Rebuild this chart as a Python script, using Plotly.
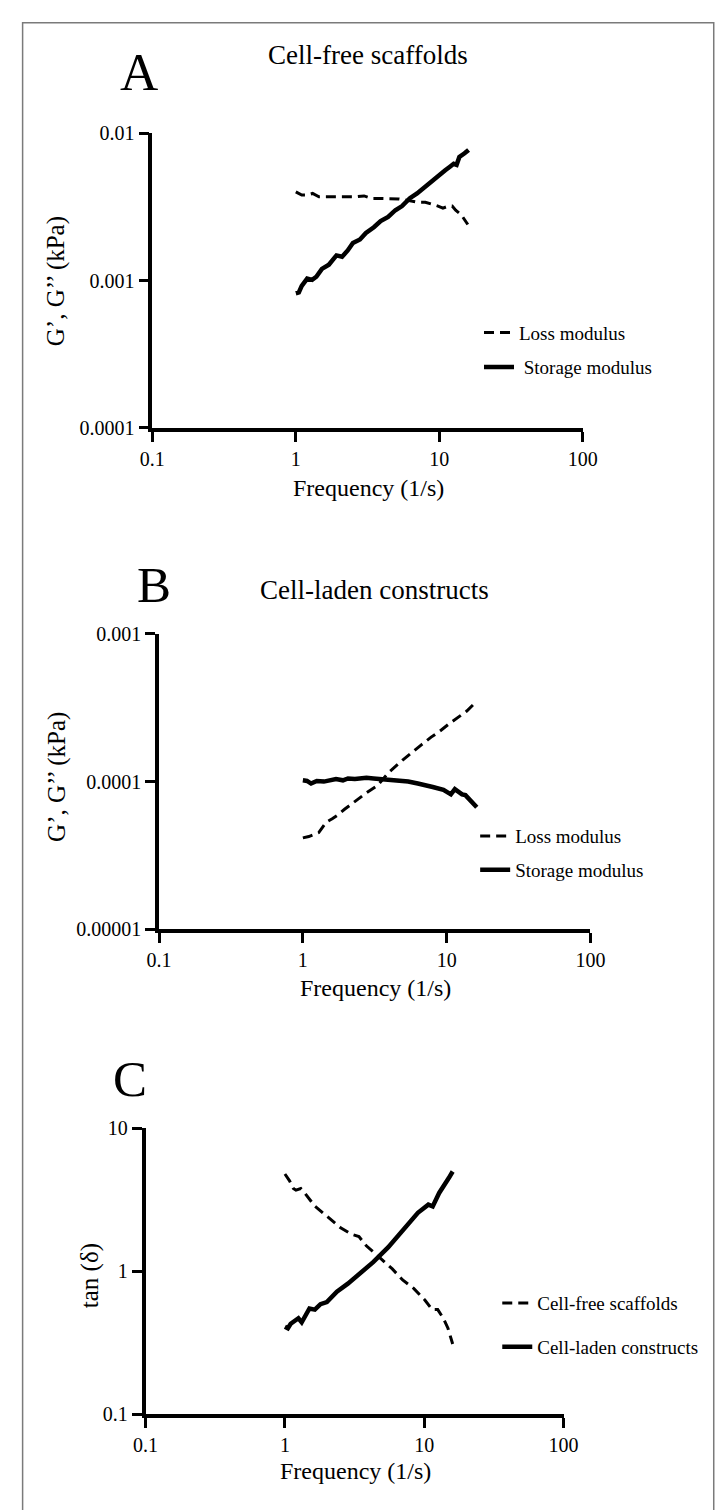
import plotly.graph_objects as go

W, H = 715, 1510

# ---------------- data ----------------
a_storage_f = [1, 1.05, 1.1, 1.2, 1.3, 1.39, 1.52, 1.7, 1.92, 2.1, 2.3, 2.5, 2.8, 3.08, 3.5, 3.9, 4.4,
               4.94, 5.5, 6.24, 7.0, 7.9, 8.9, 10, 11, 11.8, 12.6, 13.2, 13.8, 15, 16]
a_storage = [0.00082, 0.00083, 0.00092, 0.00103, 0.00101, 0.00106, 0.0012, 0.00128, 0.00148, 0.00145,
             0.0016, 0.0018, 0.0019, 0.0021, 0.0023, 0.00253, 0.0027, 0.003, 0.0032, 0.00362, 0.0039,
             0.0043, 0.0048, 0.0053, 0.0056, 0.0059, 0.0062, 0.0061, 0.0069, 0.0073, 0.0077]
a_loss_f = [1, 1.1, 1.2, 1.31, 1.45, 1.71, 2.0, 2.3, 2.6, 2.99, 3.4, 3.9, 4.5, 5.2, 6.0, 7.0, 8.0,
            8.9, 9.8, 10.6, 11.6, 12.3, 13, 14.2, 15, 15.8]
a_loss = [0.0040, 0.0038, 0.0038, 0.0039, 0.0037, 0.0037, 0.0037, 0.0037, 0.0037, 0.00375, 0.0036,
          0.0036, 0.0036, 0.00358, 0.0035, 0.0034, 0.0034, 0.0033, 0.0032, 0.0031, 0.0032, 0.0032,
          0.0030, 0.0028, 0.0026, 0.0024]

b_storage_f = [1, 1.07, 1.14, 1.25, 1.4, 1.55, 1.7, 1.9, 2.06, 2.3, 2.77, 3.1, 3.5, 4.0, 4.7, 5.4,
               6.3, 7.1, 8.0, 9.5, 10.7, 11.4, 12.0, 12.8, 13.5, 14.4, 15.3, 16.2]
b_storage = [0.000102, 0.000101, 0.000097, 0.000101, 0.0001, 0.000103, 0.000104, 0.000102, 0.000105,
             0.000104, 0.000106, 0.000105, 0.000104, 0.000103, 0.000101, 0.0001, 0.000097, 0.000095,
             0.000092, 0.000088, 0.000082, 0.000089, 0.000085, 0.000082, 0.000081, 0.000076,
             0.000072, 0.000067]
b_loss_f = [1, 1.1, 1.29, 1.45, 1.6, 1.73, 1.95, 2.19, 2.5, 2.77, 3.3, 3.94, 4.99, 5.8, 6.7, 7.8,
            9.0, 10.5, 12.1, 13.8, 15.7]
b_loss = [0.0000416, 0.0000425, 0.0000452, 0.000053, 0.000056, 0.000059, 0.000065, 0.000071,
          0.000078, 0.000084, 0.000094, 0.000115, 0.000141, 0.00016, 0.000178, 0.0002, 0.00022,
          0.000248, 0.000275, 0.0003, 0.00034]

c_laden_f = [1, 1.05, 1.1, 1.18, 1.25, 1.32, 1.42, 1.5, 1.64, 1.8, 2.0, 2.36, 2.83, 3.4, 4.3, 5.5,
             7.0, 9.0, 10.7, 11.5, 12.8, 14, 15, 16]
c_laden = [0.41, 0.40, 0.43, 0.45, 0.47, 0.44, 0.50, 0.55, 0.54, 0.59, 0.61, 0.72, 0.82, 0.96, 1.16,
           1.47, 1.92, 2.57, 2.93, 2.85, 3.54, 4.0, 4.5, 5.0]
c_free_f = [1, 1.08, 1.15, 1.2, 1.3, 1.4, 1.64, 1.85, 2.09, 2.51, 3.0, 3.4, 3.84, 4.9, 5.9, 7.0,
            8.4, 10.1, 11.4, 12.5, 13.7, 14.8, 16]
c_free = [4.8, 4.3, 3.8, 3.7, 3.8, 3.5, 2.86, 2.6, 2.37, 2.02, 1.82, 1.75, 1.51, 1.22, 1.04, 0.87,
          0.76, 0.63, 0.54, 0.54, 0.47, 0.40, 0.31]

x_ticks = [0.1, 1, 10, 100]
x_ticktext = ["0.1", "1", "10", "100"]
a_yticks = [0.0001, 0.001, 0.01]
a_yticktext = ["0.0001", "0.001", "0.01"]
b_yticks = [0.00001, 0.0001, 0.001]
b_yticktext = ["0.00001", "0.0001", "0.001"]
c_yticks = [0.1, 1, 10]
c_yticktext = ["0.1", "1", "10"]

FONT = "Liberation Serif"

def xdom(x0, x1):
    return [x0 / W, x1 / W]

def ydom(ytop, ybot):
    return [1 - ybot / H, 1 - ytop / H]

fig = go.Figure()

solid = dict(color="black", width=4.5)
dashed = dict(color="black", width=3, dash="10px,6px")

fig.add_trace(go.Scatter(x=a_loss_f, y=a_loss, mode="lines", line=dashed, name="Loss modulus",
                         xaxis="x", yaxis="y", legend="legend", legendgroup="a1"))
fig.add_trace(go.Scatter(x=a_storage_f, y=a_storage, mode="lines", line=solid,
                         name="\u00a0Storage modulus",
                         xaxis="x", yaxis="y", legend="legend", legendgroup="a2"))
fig.add_trace(go.Scatter(x=b_loss_f, y=b_loss, mode="lines", line=dashed, name="Loss modulus",
                         xaxis="x2", yaxis="y2", legend="legend2", legendgroup="b1"))
fig.add_trace(go.Scatter(x=b_storage_f, y=b_storage, mode="lines", line=solid, name="Storage modulus",
                         xaxis="x2", yaxis="y2", legend="legend2", legendgroup="b2"))
fig.add_trace(go.Scatter(x=c_free_f, y=c_free, mode="lines", line=dashed, name="Cell-free scaffolds",
                         xaxis="x3", yaxis="y3", legend="legend3", legendgroup="c1"))
fig.add_trace(go.Scatter(x=c_laden_f, y=c_laden, mode="lines", line=solid, name="Cell-laden constructs",
                         xaxis="x3", yaxis="y3", legend="legend3", legendgroup="c2"))

axis_common = dict(type="log", showline=True, linecolor="black", linewidth=3.5, ticks="outside",
                   ticklen=10, tickwidth=3, tickcolor="black", showgrid=False, zeroline=False,
                   tickfont=dict(family=FONT, size=20, color="black"), mirror=False)

panels = {
    "A": dict(xa="xaxis", ya="yaxis", yn="y", xn="x", box=(145, 124, 593, 423),
              yr=[-4, -2], yt=a_yticks, ytt=a_yticktext),
    "B": dict(xa="xaxis2", ya="yaxis2", yn="y2", xn="x2", box=(152, 632, 601, 932),
              yr=[-5, -3], yt=b_yticks, ytt=b_yticktext),
    "C": dict(xa="xaxis3", ya="yaxis3", yn="y3", xn="x3", box=(138, 1134, 573, 1424),
              yr=[-1, 1], yt=c_yticks, ytt=c_yticktext),
}

lay = {}
for k, p in panels.items():
    x0, y0, x1, y1 = p["box"]
    lay[p["xa"]] = dict(axis_common, domain=xdom(x0, x1), range=[-1, 2], tickvals=x_ticks,
                        ticktext=x_ticktext, anchor=p["yn"])
    lay[p["ya"]] = dict(axis_common, domain=ydom(y0, y1), range=p["yr"], tickvals=p["yt"],
                        ticktext=p["ytt"], anchor=p["xn"])

leg_common = dict(font=dict(family=FONT, size=19, color="black"), bgcolor="rgba(0,0,0,0)",
                  borderwidth=0, xanchor="left", yanchor="top", itemwidth=30,
                  traceorder="grouped")
lay["legend"] = dict(leg_common, x=(525 - 40) / W, y=1 - 307 / H, tracegroupgap=7)
lay["legend2"] = dict(leg_common, x=(521 - 40) / W, y=1 - 818 / H, tracegroupgap=6)
lay["legend3"] = dict(leg_common, x=(544 - 40) / W, y=1 - 1292 / H, tracegroupgap=16)

def ann(text, px, py, size, angle=0):
    return dict(text=text, x=px / W, y=1 - py / H, xref="paper", yref="paper", showarrow=False,
                xanchor="center", yanchor="middle", textangle=angle,
                font=dict(family=FONT, size=size, color="black"))

annotations = [
    ann("A", 131, 62, 53),
    ann("Cell-free scaffolds", 369, 45, 27),
    ann("Frequency (1/s)", 370, 484, 24),
    ann("G’, G’’ (kPa)", 45, 274, 25, -90),
    ann("B", 147, 582, 51),
    ann("Cell-laden constructs", 376, 588, 27),
    ann("Frequency (1/s)", 377, 991, 24),
    ann("G’, G’’ (kPa)", 45, 777, 25, -90),
    ann("C", 122, 1084, 51),
    ann("Frequency (1/s)", 356, 1482, 24),
    ann("tan (δ)", 80, 1283, 25, -90),
]

shapes = [dict(type="rect", xref="paper", yref="paper", x0=10 / W, x1=1.02, y0=-0.02, y1=1 - 12 / H,
               line=dict(color="#7a7a7a", width=1.5))]

fig.update_layout(width=W, height=H, margin=dict(l=0, r=0, t=0, b=0), paper_bgcolor="white",
                  plot_bgcolor="white", showlegend=True, annotations=annotations, shapes=shapes,
                  **lay)

fig.write_html("out.html")
